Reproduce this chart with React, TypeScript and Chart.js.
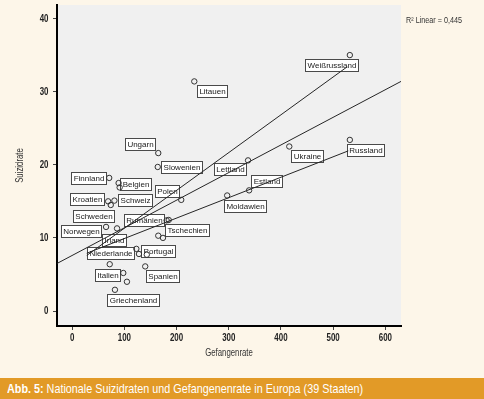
import { useEffect, useRef } from "react";
import { Chart, registerables } from "chart.js";
Chart.register(...registerables);

// ---- data ----
const countries = [
  "Weißrussland", "Litauen", "Ungarn", "Slowenien", "Lettland", "Ukraine", "Russland",
  "Estland", "Moldawien", "Polen", "Finnland", "Belgien", "", "Kroatien", "Schweiz",
  "Schweden", "Rumänien", "Tschechien", "Norwegen", "Irland", "", "", "Niederlande",
  "Portugal", "", "Italien", "", "", "Spanien", "Griechenland",
];
const prisonRate = [
  532, 234, 165, 164, 337, 416, 532,
  339, 297, 209, 71, 89, 91, 69, 81,
  74, 181, 185, 65, 86, 165, 174, 123,
  128, 143, 72, 98, 105, 140, 82,
];
const suicideRate = [
  35.0, 31.4, 21.6, 19.7, 20.6, 22.5, 23.4,
  16.5, 15.8, 15.2, 18.2, 17.5, 16.9, 15.0, 15.1,
  14.5, 12.4, 12.45, 11.5, 11.3, 10.3, 10.0, 8.5,
  7.8, 7.7, 6.4, 5.2, 4.0, 6.1, 2.9,
];
const xTicks = [0, 100, 200, 300, 400, 500, 600];
const yTicks = [0, 10, 20, 30, 40];
const totalFitX = [-29, 630];
const totalFitY = [6.5, 31.4];
const upperFitX = [28, 527];
const upperFitY = [7.6, 33.4];
const lowerFitX = [28, 529];
const lowerFitY = [7.9, 21.9];
const rSquaredText = "R² Linear = 0,445";
const xTitle = "Gefangenrate";
const yTitle = "Suizidrate";
const captionBold = "Abb. 5:";
const captionText = " Nationale Suizidraten und Gefangenenrate in Europa (39 Staaten)";

// ---- label placement (box centre offset from point, px) ----
const labelOffsets: [number, number][] = [
  [-18, 10], [18, 10], [-18, -9], [24, 0], [-18, 9], [18, 10], [16, 10],
  [17, -9], [18, 11], [-14, -9], [-21, 0], [17, 1], [0, 0], [-21, -2], [21, -1],
  [-17, 11], [-23, 0], [18, 10], [-25, 4], [-3, 12], [0, 0], [0, 0], [-26, 4],
  [19, -3], [0, 0], [-2, 11], [0, 0], [0, 0], [17, 10], [18, 10],
];

const SANS = "'Liberation Sans', Arial, sans-serif";
const CREAM = "#fdf6e9";
const PLOT_BG = "#f0f0f0";

function narrowText(ctx: any, text: string, x: number, y: number, squeeze: number, align: string) {
  ctx.save();
  ctx.translate(x, y);
  ctx.scale(squeeze, 1);
  ctx.textAlign = align;
  ctx.fillText(text, 0, 0);
  ctx.restore();
}

const bgPlugin = {
  id: "bgPlugin",
  beforeDraw(chart: any) {
    const { ctx, chartArea, width, height } = chart;
    ctx.save();
    ctx.fillStyle = CREAM;
    ctx.fillRect(0, 0, width, height);
    ctx.fillStyle = PLOT_BG;
    ctx.fillRect(chartArea.left, chartArea.top, chartArea.right - chartArea.left, chartArea.bottom - chartArea.top);
    ctx.restore();
  },
};

const labelPlugin = {
  id: "labelPlugin",
  beforeDatasetsDraw(chart: any) {
    const { ctx } = chart;
    const xs = chart.scales.x;
    const ys = chart.scales.y;
    ctx.save();
    ctx.font = `8px ${SANS}`;
    ctx.textAlign = "center";
    ctx.textBaseline = "middle";
    countries.forEach((name, i) => {
      if (!name) return;
      const px = xs.getPixelForValue(prisonRate[i]);
      const py = ys.getPixelForValue(suicideRate[i]);
      const [dx, dy] = labelOffsets[i];
      const w = Math.round(ctx.measureText(name).width + 4);
      const h = 12;
      const left = Math.round(px + dx - w / 2) + 0.5;
      const top = Math.round(py + dy - h / 2) + 0.5;
      ctx.fillStyle = "#ffffff";
      ctx.fillRect(left, top, w, h);
      ctx.strokeStyle = "#4a4a4a";
      ctx.lineWidth = 1;
      ctx.strokeRect(left, top, w, h);
      ctx.fillStyle = "#1a1a1a";
      ctx.fillText(name, left + w / 2, top + h / 2 + 0.5);
    });
    ctx.restore();
  },
};

const textPlugin = {
  id: "textPlugin",
  afterDraw(chart: any) {
    const { ctx, chartArea } = chart;
    const xs = chart.scales.x;
    const ys = chart.scales.y;
    ctx.save();
    ctx.fillStyle = "#222222";
    ctx.font = `bold 11px ${SANS}`;
    ctx.textBaseline = "middle";
    xs.ticks.forEach((t: any) => {
      narrowText(ctx, String(t.value), xs.getPixelForValue(t.value), chartArea.bottom + 12, 0.72, "center");
    });
    ys.ticks.forEach((t: any) => {
      narrowText(ctx, String(t.value), chartArea.left - 8.5, ys.getPixelForValue(t.value), 0.72, "right");
    });
    ctx.fillStyle = "#333333";
    ctx.font = `10px ${SANS}`;
    narrowText(ctx, xTitle, (chartArea.left + chartArea.right) / 2, chartArea.bottom + 27, 0.78, "center");
    ctx.save();
    ctx.translate(chartArea.left - 37, (chartArea.top + chartArea.bottom) / 2);
    ctx.rotate(-Math.PI / 2);
    narrowText(ctx, yTitle, 0, 0, 0.78, "center");
    ctx.restore();
    ctx.font = `8.5px ${SANS}`;
    narrowText(ctx, rSquaredText, chartArea.right + 5, chartArea.top + 16, 0.85, "left");
    ctx.restore();
  },
};

export default function App() {
  const ref = useRef<HTMLCanvasElement>(null);
  useEffect(() => {
    document.body.style.margin = "0";
    const canvas = ref.current!;
    const lineStyle = {
      showLine: true,
      borderColor: "#262626",
      borderWidth: 1,
      pointRadius: 0,
      fill: false,
    };
    const axisCommon = {
      type: "linear",
      ticks: { display: false },
      grid: { display: true, drawOnChartArea: false, drawTicks: true, tickLength: 4, color: "#444" },
      border: { display: true, color: "#000", width: 2 },
    };
    const chart = new Chart(canvas, {
      type: "scatter",
      data: {
        datasets: [
          {
            data: prisonRate.map((x, i) => ({ x, y: suicideRate[i] })),
            pointRadius: 2.7,
            pointBorderWidth: 1,
            borderColor: "#333333",
            backgroundColor: "rgba(0,0,0,0)",
          },
          { ...lineStyle, data: totalFitX.map((x, i) => ({ x, y: totalFitY[i] })) },
          { ...lineStyle, data: upperFitX.map((x, i) => ({ x, y: upperFitY[i] })) },
          { ...lineStyle, data: lowerFitX.map((x, i) => ({ x, y: lowerFitY[i] })) },
        ] as any,
      },
      options: {
        animation: false,
        responsive: false,
        events: [],
        layout: { padding: { left: 0, right: 83, top: 5, bottom: 0 } },
        plugins: { legend: { display: false }, tooltip: { enabled: false } },
        scales: {
          x: {
            ...axisCommon,
            min: -29,
            max: 630,
            afterBuildTicks: (s: any) => { s.ticks = xTicks.map((v) => ({ value: v })); },
            afterFit: (s: any) => { s.height = 52; },
          },
          y: {
            ...axisCommon,
            min: -2.05,
            max: 41.85,
            afterBuildTicks: (s: any) => { s.ticks = yTicks.map((v) => ({ value: v })); },
            afterFit: (s: any) => { s.width = 57; },
          },
        },
      } as any,
      plugins: [bgPlugin, labelPlugin, textPlugin],
    });
    return () => chart.destroy();
  }, []);

  return (
    <div style={{ width: 484, height: 399, background: CREAM, overflow: "hidden" }}>
      <canvas ref={ref} width={484} height={378} style={{ display: "block", width: 484, height: 378 }} />
      <div
        style={{
          height: 21,
          background: "#e29a27",
          color: "#ffffff",
          fontFamily: SANS,
          fontSize: 13.5,
          lineHeight: "21px",
          paddingLeft: 7,
          whiteSpace: "nowrap",
          overflow: "hidden",
        }}
      >
        <span style={{ display: "inline-block", transform: "scaleX(0.8)", transformOrigin: "left center" }}>
          <b>{captionBold}</b>
          {captionText}
        </span>
      </div>
    </div>
  );
}
